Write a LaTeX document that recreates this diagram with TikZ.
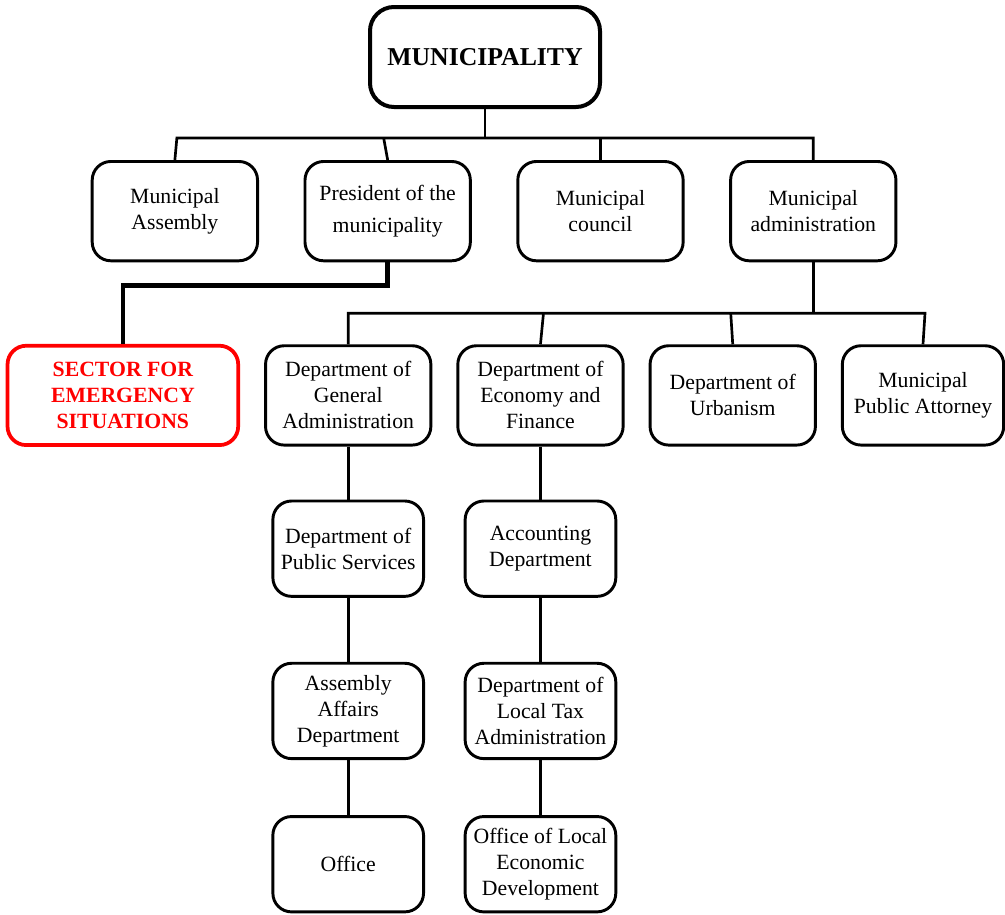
\documentclass[tikz,border=0pt]{standalone}
\usepackage{fontspec}
\setmainfont{Liberation Serif}
\usetikzlibrary{positioning}
\definecolor{orgred}{HTML}{FF0000}
\tikzset{
  unitbox/.style={
    rounded corners=14pt,
    draw=black,
    line width=2.2pt,
    minimum width=124pt,
    minimum height=74.5pt,
    inner sep=2pt,
    align=center,
    font=\fontsize{16.3}{19.5}\selectfont
  },
  headbox/.style={
    unitbox,
    rounded corners=18pt,
    line width=3pt,
    minimum width=172.5pt,
    minimum height=75pt,
    font=\bfseries\fontsize{19.3}{23}\selectfont
  },
  alertbox/.style={
    unitbox,
    draw=orgred,
    text=orgred,
    line width=2.8pt,
    minimum width=173pt,
    font=\bfseries\fontsize{16.3}{19.5}\selectfont
  },
  subbox/.style={
    unitbox,
    minimum width=113pt,
    minimum height=71.5pt
  },
  link/.style={draw=black, line width=2pt},
  boldlink/.style={draw=black, line width=3.5pt}
}
\begin{document}
\begin{tikzpicture}[node distance=38.25pt and 33.4pt]
\useasboundingbox (0,0) rectangle (753.75pt,-685.5pt);
\node[headbox] (muni) at (363.75pt,-42.75pt) {MUNICIPALITY};
% second level
\node[unitbox, below=of muni, xshift=86.6pt] (council) {Municipal\\council};
\node[unitbox, left=of council] (president) {President of the\\[5pt]municipality};
\node[unitbox, left=of president] (assembly) {Municipal\\Assembly};
\node[unitbox, right=of council] (admin) {Municipal\\administration};
% departments
\node[unitbox, below=61.5pt of president, xshift=-29.6pt] (general) {Department of\\General\\Administration};
\node[unitbox, right=18pt of general] (economy) {Department of\\Economy and\\Finance};
\node[unitbox, right=18pt of economy] (urbanism) {Department of\\Urbanism};
\node[unitbox, right=18pt of urbanism, minimum width=121pt] (attorney) {Municipal\\Public Attorney};
\node[alertbox, left=18pt of general] (sector) {SECTOR FOR\\EMERGENCY\\SITUATIONS};
% columns
\node[subbox, below=39.75pt of general] (services) {Department of\\Public Services};
\node[subbox, below=48pt of services] (affairs) {Assembly\\Affairs\\Department};
\node[subbox, below=41.25pt of affairs] (office) {Office};
\node[subbox, below=39.75pt of economy] (accounting) {Accounting\\Department};
\node[subbox, below=48pt of accounting] (localtax) {Department of\\Local Tax\\Administration};
\node[subbox, below=41.25pt of localtax] (localdev) {Office of Local\\Economic\\Development};
% connectors
\coordinate[below=21.75pt of muni] (tophub);
\coordinate[below=38.25pt of admin] (lowhub);
\draw[link] (muni) -- (tophub);
\draw[link] (assembly.north) -- ([xshift=1.5pt]assembly.north |- tophub) -- (admin.north |- tophub) -- (admin.north);
\draw[link] ([xshift=-3pt]president.north |- tophub) -- (president.north);
\draw[link] (council.north |- tophub) -- (council.north);
\draw[boldlink] (president.south) -- ++(0,-17.25pt) -| (sector.north);
\draw[link] (admin) -- (lowhub);
\draw[link] (general.north) -- (general.north |- lowhub) -- ([xshift=1.5pt]attorney.north |- lowhub) -- (attorney.north);
\draw[link] ([xshift=2.25pt]economy.north |- lowhub) -- (economy.north);
\draw[link] ([xshift=-1.5pt]urbanism.north |- lowhub) -- (urbanism.north);
\draw[link] (general) -- (services);
\draw[link] (services) -- (affairs);
\draw[link] (affairs) -- (office);
\draw[link] (economy) -- (accounting);
\draw[link] (accounting) -- (localtax);
\draw[link] (localtax) -- (localdev);
\end{tikzpicture}
\end{document}
